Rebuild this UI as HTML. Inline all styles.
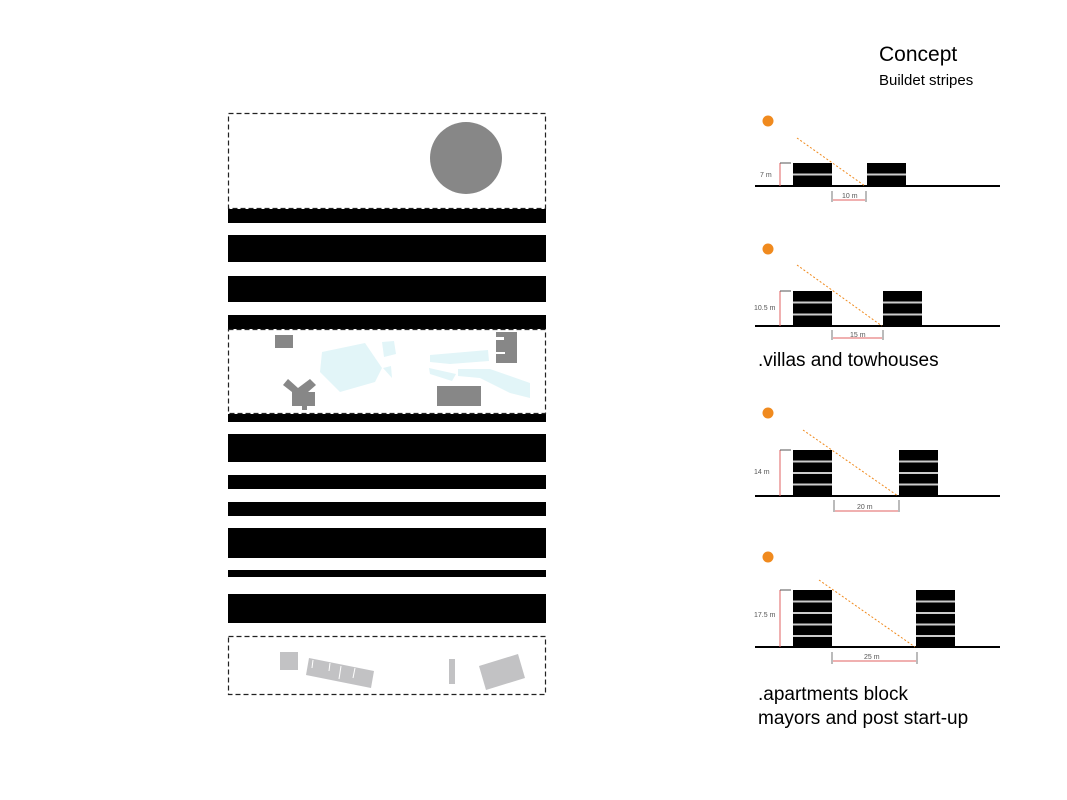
<!DOCTYPE html>
<html><head><meta charset="utf-8"><style>
html,body{margin:0;padding:0;background:#fff;}
svg{display:block;}
text{font-family:"Liberation Sans",sans-serif;}
</style></head><body>
<svg width="1067" height="800" viewBox="0 0 1067 800" xmlns="http://www.w3.org/2000/svg">
<rect width="1067" height="800" fill="#fff"/>
<rect x="228.5" y="113.5" width="317" height="95" fill="none" stroke="#222" stroke-width="1.2" stroke-dasharray="5,3"/>
<circle cx="466" cy="158" r="36" fill="#878787"/>
<g fill="#000">
<rect x="228" y="209" width="318" height="14"/>
<rect x="228" y="235" width="318" height="27"/>
<rect x="228" y="276" width="318" height="26"/>
<rect x="228" y="315" width="318" height="14"/>
<rect x="228" y="414" width="318" height="8"/>
<rect x="228" y="434" width="318" height="28"/>
<rect x="228" y="475" width="318" height="14"/>
<rect x="228" y="502" width="318" height="14"/>
<rect x="228" y="528" width="318" height="30"/>
<rect x="228" y="570" width="318" height="7"/>
<rect x="228" y="594" width="318" height="29"/>
</g>
<rect x="228.5" y="329.5" width="317" height="84" fill="none" stroke="#222" stroke-width="1.2" stroke-dasharray="5,3"/>
<g fill="#e2f5f8">
<path d="M322 352 L365 343 L382 368 L375 382 L340 392 L320 372 Z"/>
<path d="M382 342 L394 341 L396 354 L384 357 Z"/>
<path d="M383 368 L391 366 L392 378 Z"/>
<path d="M430 355 L488 350 L489 361 L450 364 L430 362 Z"/>
<path d="M458 369 L490 369 L530 383 L530 398 L510 393 L480 378 L458 376 Z"/>
<path d="M429 368 L456 374 L452 381 L430 374 Z"/>
</g>
<g fill="#878787">
<rect x="275" y="335" width="18" height="13"/>
<rect x="496" y="332" width="21" height="31"/>
<rect x="437" y="386" width="44" height="20"/>
<path d="M283 385 L288 379 L298 388 L310 379 L316 385 L308 392 L315 392 L315 406 L307 406 L307 410 L302 410 L302 406 L292 406 L292 392 Z"/>
</g>
<rect x="496" y="337" width="8" height="3" fill="#fff"/>
<rect x="496" y="352" width="9" height="2" fill="#fff"/>
<rect x="228.5" y="636.5" width="317" height="58" fill="none" stroke="#222" stroke-width="1.2" stroke-dasharray="5,3"/>
<g fill="#c2c2c4">
<rect x="280" y="652" width="18" height="18"/>
<path d="M309 658 L374 671 L371 688 L306 675 Z"/>
<rect x="449" y="659" width="6" height="25"/>
<path d="M479 666 L518 654 L525 678 L486 690 Z"/>
</g>
<g stroke="#fff" stroke-width="1">
<line x1="313" y1="660" x2="312" y2="668"/><line x1="330" y1="663" x2="329" y2="671"/>
<line x1="341" y1="666" x2="339" y2="679"/><line x1="355" y1="668" x2="353" y2="678"/>
</g>
<text x="879" y="61" font-size="21" fill="#000">Concept</text>
<text x="879" y="85" font-size="15" fill="#000">Buildet stripes</text>
<text x="758" y="366" font-size="19" fill="#000">.villas and towhouses</text>
<text x="758" y="700" font-size="19" fill="#000">.apartments block</text>
<text x="758" y="724" font-size="19" fill="#000">mayors and post start-up</text>
<g>
<circle cx="768" cy="121" r="5.5" fill="#f08a1e"/>
<rect x="793" y="163" width="39" height="23" fill="#000"/><rect x="867" y="163" width="39" height="23" fill="#000"/>
<g stroke="#ccc" stroke-width="2"><line x1="793" y1="174.5" x2="832" y2="174.5"/><line x1="867" y1="174.5" x2="906" y2="174.5"/></g>
<line x1="755" y1="186" x2="1000" y2="186" stroke="#000" stroke-width="2"/>
<line x1="797" y1="138" x2="865" y2="186" stroke="#f08a1e" stroke-dasharray="2,2"/>
<line x1="780" y1="163" x2="780" y2="186" stroke="#e06060"/><line x1="780" y1="163" x2="791" y2="163" stroke="#555"/>
<text x="760" y="177" font-size="7" fill="#555">7 m</text>
<line x1="832" y1="191" x2="832" y2="202" stroke="#777"/><line x1="866" y1="191" x2="866" y2="202" stroke="#777"/>
<line x1="833" y1="200" x2="865" y2="200" stroke="#e06060"/>
<text x="842" y="198" font-size="7" fill="#555">10 m</text>
</g>
<g>
<circle cx="768" cy="249" r="5.5" fill="#f08a1e"/>
<rect x="793" y="291" width="39" height="35" fill="#000"/><rect x="883" y="291" width="39" height="35" fill="#000"/>
<g stroke="#ccc" stroke-width="2"><line x1="793" y1="302.5" x2="832" y2="302.5"/><line x1="793" y1="314.5" x2="832" y2="314.5"/><line x1="883" y1="302.5" x2="922" y2="302.5"/><line x1="883" y1="314.5" x2="922" y2="314.5"/></g>
<line x1="755" y1="326" x2="1000" y2="326" stroke="#000" stroke-width="2"/>
<line x1="797" y1="265" x2="882" y2="326" stroke="#f08a1e" stroke-dasharray="2,2"/>
<line x1="780" y1="291" x2="780" y2="326" stroke="#e06060"/><line x1="780" y1="291" x2="791" y2="291" stroke="#555"/>
<text x="754" y="310" font-size="7" fill="#555">10.5 m</text>
<line x1="832" y1="330" x2="832" y2="340" stroke="#777"/><line x1="883" y1="330" x2="883" y2="340" stroke="#777"/>
<line x1="833" y1="338" x2="882" y2="338" stroke="#e06060"/>
<text x="850" y="337" font-size="7" fill="#555">15 m</text>
</g>
<g>
<circle cx="768" cy="413" r="5.5" fill="#f08a1e"/>
<rect x="793" y="450" width="39" height="46" fill="#000"/><rect x="899" y="450" width="39" height="46" fill="#000"/>
<g stroke="#ccc" stroke-width="2"><line x1="793" y1="461.5" x2="832" y2="461.5"/><line x1="793" y1="473" x2="832" y2="473"/><line x1="793" y1="484.5" x2="832" y2="484.5"/><line x1="899" y1="461.5" x2="938" y2="461.5"/><line x1="899" y1="473" x2="938" y2="473"/><line x1="899" y1="484.5" x2="938" y2="484.5"/></g>
<line x1="755" y1="496" x2="1000" y2="496" stroke="#000" stroke-width="2"/>
<line x1="803" y1="430" x2="898" y2="496" stroke="#f08a1e" stroke-dasharray="2,2"/>
<line x1="780" y1="450" x2="780" y2="496" stroke="#e06060"/><line x1="780" y1="450" x2="791" y2="450" stroke="#555"/>
<text x="754" y="474" font-size="7" fill="#555">14 m</text>
<line x1="834" y1="500" x2="834" y2="512" stroke="#777"/><line x1="899" y1="500" x2="899" y2="512" stroke="#777"/>
<line x1="835" y1="511" x2="898" y2="511" stroke="#e06060"/>
<text x="857" y="509" font-size="7" fill="#555">20 m</text>
</g>
<g>
<circle cx="768" cy="557" r="5.5" fill="#f08a1e"/>
<rect x="793" y="590" width="39" height="57" fill="#000"/><rect x="916" y="590" width="39" height="57" fill="#000"/>
<g stroke="#ccc" stroke-width="2"><line x1="793" y1="601.5" x2="832" y2="601.5"/><line x1="793" y1="613" x2="832" y2="613"/><line x1="793" y1="624.5" x2="832" y2="624.5"/><line x1="793" y1="636" x2="832" y2="636"/><line x1="916" y1="601.5" x2="955" y2="601.5"/><line x1="916" y1="613" x2="955" y2="613"/><line x1="916" y1="624.5" x2="955" y2="624.5"/><line x1="916" y1="636" x2="955" y2="636"/></g>
<line x1="755" y1="647" x2="1000" y2="647" stroke="#000" stroke-width="2"/>
<line x1="819" y1="580" x2="915" y2="647" stroke="#f08a1e" stroke-dasharray="2,2"/>
<line x1="780" y1="590" x2="780" y2="647" stroke="#e06060"/><line x1="780" y1="590" x2="791" y2="590" stroke="#555"/>
<text x="754" y="617" font-size="7" fill="#555">17.5 m</text>
<line x1="832" y1="652" x2="832" y2="664" stroke="#777"/><line x1="917" y1="652" x2="917" y2="664" stroke="#777"/>
<line x1="833" y1="661" x2="916" y2="661" stroke="#e06060"/>
<text x="864" y="659" font-size="7" fill="#555">25 m</text>
</g>
</svg>
</body></html>
